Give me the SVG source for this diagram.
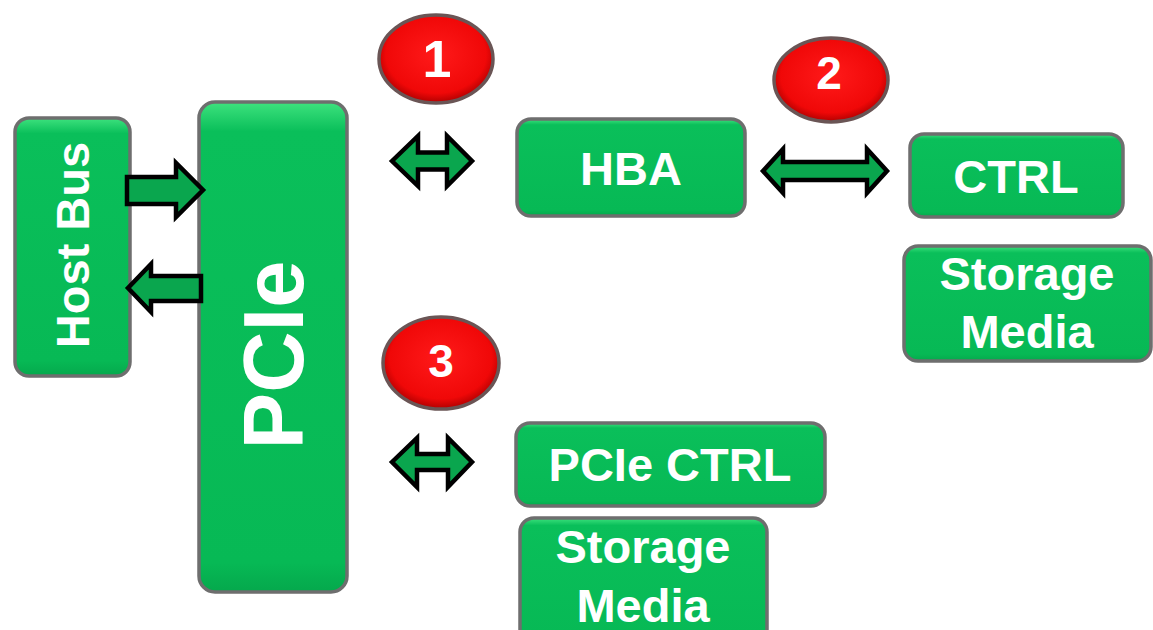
<svg xmlns="http://www.w3.org/2000/svg" width="1153" height="630" viewBox="0 0 1153 630">
<style>
.box{fill:url(#gbox);stroke:#6e6e6e;stroke-width:3.5}
.lbl{font-family:"Liberation Sans",Arial,sans-serif;font-weight:bold;fill:#ffffff;text-anchor:middle}
.arr{fill:#0aa64e;stroke:#000000;stroke-width:4.5;stroke-linejoin:miter}
.badge{fill:url(#rbad);stroke:#6a5555;stroke-width:3.5}
.num{font-family:"Liberation Sans",Arial,sans-serif;font-weight:bold;fill:#ffffff;text-anchor:middle}
</style>
<defs>
<linearGradient id="gbox" x1="0" y1="0" x2="0" y2="1">
<stop offset="0" stop-color="#3ee27e"/>
<stop offset="0.06" stop-color="#0abf5a"/>
<stop offset="0.94" stop-color="#07b955"/>
<stop offset="1" stop-color="#05a84c"/>
</linearGradient>
<radialGradient id="rbad" cx="0.5" cy="0.45" r="0.55">
<stop offset="0" stop-color="#ff1a1a"/>
<stop offset="0.8" stop-color="#f00808"/>
<stop offset="1" stop-color="#b00000"/>
</radialGradient>
</defs>
<rect width="1153" height="630" fill="#ffffff"/>

<g id="hostbus">
<rect class="box" x="15" y="118" width="115" height="258" rx="14"/>
<text class="lbl" font-size="47" transform="translate(89,245) rotate(-90)">Host Bus</text>
</g>

<g id="pcie">
<rect class="box" x="199" y="102" width="148" height="490" rx="16"/>
<text class="lbl" font-size="85" transform="translate(303,355) rotate(-90)">PCIe</text>
</g>

<g id="hba">
<rect class="box" x="517" y="119" width="228" height="97" rx="14"/>
<text class="lbl" font-size="47" x="631" y="185">HBA</text>
</g>

<g id="ctrl">
<rect class="box" x="910" y="134" width="213" height="83" rx="14"/>
<text class="lbl" font-size="47" x="1016" y="193">CTRL</text>
</g>

<g id="storage1">
<rect class="box" x="904" y="246" width="247" height="115" rx="14"/>
<text class="lbl" font-size="47" x="1027" y="290">Storage</text>
<text class="lbl" font-size="47" x="1027" y="348">Media</text>
</g>

<g id="pciectrl">
<rect class="box" x="516" y="423" width="309" height="83" rx="14"/>
<text class="lbl" font-size="47" x="670" y="481">PCIe CTRL</text>
</g>

<g id="storage2">
<rect class="box" x="520" y="518" width="247" height="125" rx="14"/>
<text class="lbl" font-size="47" x="643" y="563">Storage</text>
<text class="lbl" font-size="47" x="643" y="622">Media</text>
</g>

<g id="badge1">
<ellipse class="badge" cx="436" cy="59" rx="57" ry="44"/>
<text class="num" x="437" y="77" font-size="52">1</text>
</g>
<g id="badge2">
<ellipse class="badge" cx="831" cy="80" rx="57" ry="42"/>
<text class="num" x="829" y="89" font-size="46">2</text>
</g>
<g id="badge3">
<ellipse class="badge" cx="441" cy="363" rx="58" ry="46"/>
<text class="num" x="441" y="377" font-size="46">3</text>
</g>

<g id="connectors">
<polygon class="arr" points="127,177 176,177 176,163 203,190 176,217 176,204 127,204"/>
<polygon class="arr" points="201,276 151,276 151,264 128,288 151,312 151,301 201,301"/>
<polygon class="arr" points="392,161 418,136 418,152.5 447,152.5 447,136 472,161 447,186 447,169.5 418,169.5 418,186"/>
<polygon class="arr" points="763,171 783,149 783,162 867,162 867,149 887,171 867,193 867,180 783,180 783,193"/>
<polygon class="arr" points="392,462 417,438 417,454 448,454 448,438 472,462 448,487 448,470 417,470 417,487"/>
</g>
</svg>
